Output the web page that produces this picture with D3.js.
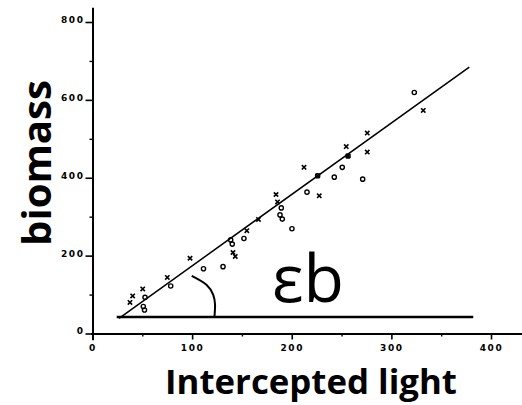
<!DOCTYPE html>
<html>
<head>
<meta charset="utf-8">
<script src="https://cdn.jsdelivr.net/npm/d3@7"></script>
<style>
  body { margin: 0; background: #fff; }
  svg { display: block; }
</style>
</head>
<body>
<div id="viz"></div>
<script>
// ticks
var xTicks = [0, 100, 200, 300, 400],
    xMinor = [50, 150, 250, 350],
    yTicks = [0, 200, 400, 600, 800],
    yMinor = [100, 300, 500, 700];

// crosses (x)
var crossX = [37.6, 40.3, 50.4, 75.1, 97.9, 141, 143.3, 154.9, 166.6, 184.2, 185.7, 212.3, 226, 227.6, 254.7, 256.5, 275.8, 275.8, 332];
var crossY = [79.7, 96.4, 114.4, 144, 193.3, 208, 198, 264, 293, 357, 338, 426.7, 405, 353.5, 480, 456, 466, 514.7, 572.8];

// circles (o)
var circX = [52.7, 51, 52.2, 78.5, 111.4, 131, 138.7, 140.3, 152, 189.5, 188.2, 190.5, 200.2, 215.3, 226, 242.7, 250.7, 256.5, 271.2, 323];
var circY = [93, 69.4, 60.4, 122, 166.3, 171.7, 240.4, 229.6, 244, 322.6, 304.6, 293.8, 269, 363, 405, 401.5, 426.7, 456, 396.4, 619];

// fitted line, base line and the angle mark
var fitX = [26.6, 378.2],
    fitY = [39, 684.3];
var baseX = [24.3, 382.2],
    baseY = [42.4, 42.4];
var arcX = [99.6, 114.6, 121.2, 123, 122.5],
    arcY = [147.8, 124.7, 99, 74.6, 45];

var width = 522,
    height = 405;

var xScale = d3.scaleLinear().domain([0, 400]).range([92.5, 491]);
var yScale = d3.scaleLinear().domain([0, 800]).range([333.5, 22]);

var svg = d3.select('#viz').append('svg')
    .attr('width', width)
    .attr('height', height)
    .style('background', '#fff');

var tickFont = '"DejaVu Sans", sans-serif';

// y axis (the line runs a bit past the end ticks)
var yLine = yScale.copy().domain([-16, 838]).range([yScale(-16), yScale(838)]);
var yAxis = svg.append('g')
    .attr('transform', 'translate(' + xScale(0) + ',0)')
    .call(d3.axisLeft(yLine).tickValues(yTicks).tickSize(7).tickSizeOuter(0).tickPadding(1));
yAxis.select('.domain').attr('stroke-width', 2);
yAxis.selectAll('.tick line').attr('stroke-width', 1.6);
yAxis.selectAll('.tick text')
    .attr('dy', '0.05em')
    .attr('fill', '#000')
    .attr('font-family', tickFont)
    .attr('font-weight', 'bold')
    .attr('font-size', 9)
    .attr('letter-spacing', 1.6);

svg.append('g')
    .attr('transform', 'translate(' + xScale(0) + ',0)')
    .call(d3.axisLeft(yScale).tickValues(yMinor).tickSize(3).tickFormat(''))
    .call(function (g) { g.select('.domain').remove(); })
    .selectAll('.tick line').attr('stroke-width', 1.4);

// x axis
var xLine = xScale.copy().domain([-2, 432]).range([xScale(-2), xScale(432)]);
var xAxis = svg.append('g')
    .attr('transform', 'translate(0,' + yScale(0) + ')')
    .call(d3.axisBottom(xLine).tickValues(xTicks).tickSize(6).tickSizeOuter(0).tickPadding(5));
xAxis.select('.domain').attr('stroke-width', 2);
xAxis.selectAll('.tick line').attr('stroke-width', 1.6);
xAxis.selectAll('.tick text')
    .attr('fill', '#000')
    .attr('font-family', tickFont)
    .attr('font-weight', 'bold')
    .attr('font-size', 9)
    .attr('letter-spacing', 1.6);

svg.append('g')
    .attr('transform', 'translate(0,' + yScale(0) + ')')
    .call(d3.axisBottom(xScale).tickValues(xMinor).tickSize(3).tickFormat(''))
    .call(function (g) { g.select('.domain').remove(); })
    .selectAll('.tick line').attr('stroke-width', 1.4);

// lines
var line = d3.line()
    .x(function (d) { return xScale(d[0]); })
    .y(function (d) { return yScale(d[1]); });

svg.append('path')
    .attr('d', line(d3.zip(fitX, fitY)))
    .attr('fill', 'none')
    .attr('stroke', '#000')
    .attr('stroke-width', 1.5);

svg.append('path')
    .attr('d', line(d3.zip(baseX, baseY)))
    .attr('fill', 'none')
    .attr('stroke', '#000')
    .attr('stroke-width', 2.5);

svg.append('path')
    .attr('d', line.curve(d3.curveNatural)(d3.zip(arcX, arcY)))
    .attr('fill', 'none')
    .attr('stroke', '#000')
    .attr('stroke-width', 2);

// markers
svg.append('g').selectAll('path')
    .data(d3.zip(crossX, crossY))
    .enter().append('path')
    .attr('transform', function (d) { return 'translate(' + xScale(d[0]) + ',' + yScale(d[1]) + ')'; })
    .attr('d', d3.symbol(d3.symbolTimes, 14))
    .attr('fill', 'none')
    .attr('stroke', '#000')
    .attr('stroke-width', 1.6);

svg.append('g').selectAll('circle')
    .data(d3.zip(circX, circY))
    .enter().append('circle')
    .attr('cx', function (d) { return xScale(d[0]); })
    .attr('cy', function (d) { return yScale(d[1]); })
    .attr('r', 2.1)
    .attr('fill', 'none')
    .attr('stroke', '#000')
    .attr('stroke-width', 1.4);

// scale a text so it spans a given width
function fit(sel, size, target) {
    var w = sel.node().getComputedTextLength();
    sel.attr('font-size', size * target / w);
}

var label = svg.append('text')
    .attr('x', 272)
    .attr('y', 302)
    .attr('font-family', '"Open Sans", sans-serif')
    .attr('font-size', 46)
    .text('εb');
fit(label, 46, 72);

var xTitle = svg.append('text')
    .attr('x', 311)
    .attr('y', 394)
    .attr('text-anchor', 'middle')
    .attr('font-family', '"Open Sans", sans-serif')
    .attr('font-weight', 'bold')
    .attr('font-size', 30)
    .text('Intercepted light');
fit(xTitle, 30, 292);

var yTitle = svg.append('text')
    .attr('transform', 'translate(51,163) rotate(-90)')
    .attr('text-anchor', 'middle')
    .attr('font-family', '"Open Sans", sans-serif')
    .attr('font-weight', 'bold')
    .attr('font-size', 30)
    .text('biomass');
fit(yTitle, 30, 166);
</script>
</body>
</html>
